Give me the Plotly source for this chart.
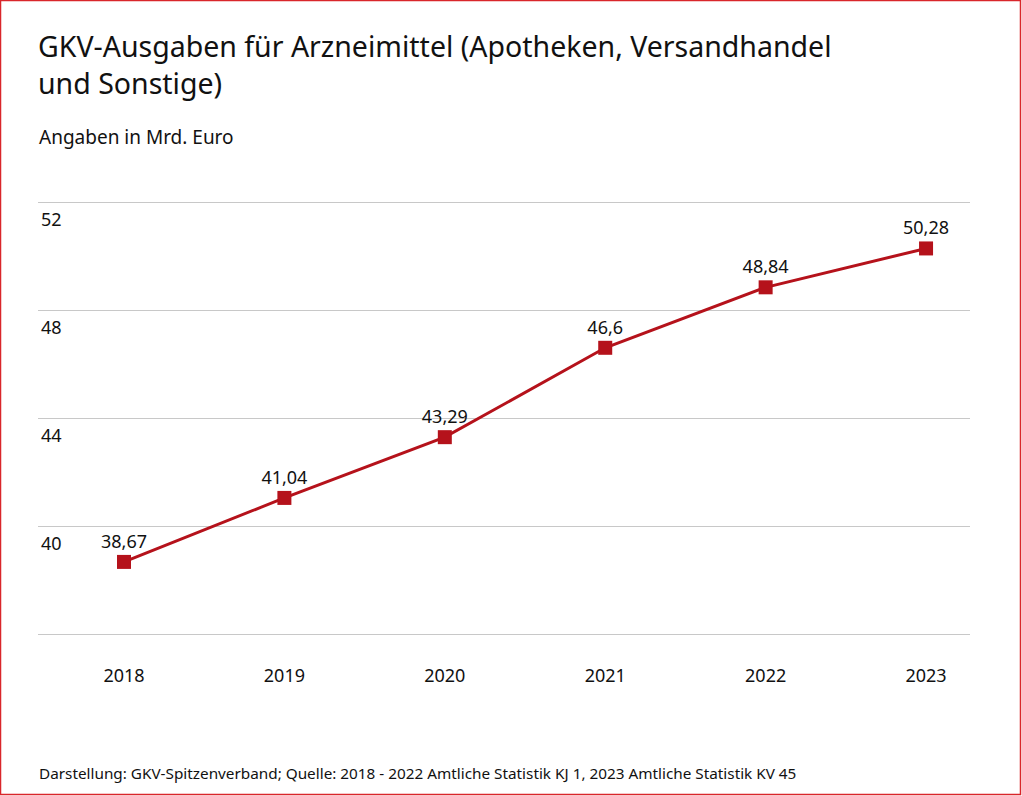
import plotly.graph_objects as go

years = [2018, 2019, 2020, 2021, 2022, 2023]
values = [38.67, 41.04, 43.29, 46.6, 48.84, 50.28]
y_ticks = [36, 40, 44, 48, 52]
y_tick_labels = ["", "40", "44", "48", "52"]

RED = "#b5121b"
FONT = "Noto Sans"

W, H = 1022, 796
L, R, T, B = 38, 52, 186, 160
pw, ph = W - L - R, H - T - B

def px_x(x):
    return (x - L) / pw

def px_y(y):
    return (H - B - y) / ph

labels = [f"{v}".replace(".", ",") for v in values]

fig = go.Figure()
fig.add_trace(go.Scatter(
    x=years, y=values, mode="lines+markers+text",
    line=dict(color=RED, width=3),
    marker=dict(symbol="square", size=14, color=RED),
    text=labels, textposition="top center",
    textfont=dict(family=FONT, size=18, color="#111"),
    cliponaxis=False, hoverinfo="skip",
))

# plot area 186..636 px; 27 px per unit -> 36 at 634, 52 at 202
fig.update_layout(
    width=W, height=H,
    margin=dict(l=L, r=R, t=T, b=B),
    paper_bgcolor="white", plot_bgcolor="white",
    showlegend=False,
    font=dict(family=FONT, color="#111"),
    xaxis=dict(
        range=[2017.464, 2023.274], tickvals=years, ticktext=[str(y) for y in years],
        showgrid=False, zeroline=False, showline=False, ticks="",
        tickfont=dict(size=18, color="#111"), ticklabelstandoff=27,
    ),
    yaxis=dict(
        range=[36 - 2 / 27, 52 + 16 / 27], tickvals=y_ticks, ticktext=y_tick_labels,
        showgrid=True, gridcolor="#c8c8c8", gridwidth=1,
        zeroline=False, showline=False, ticks="",
        ticklabelposition="inside bottom", ticklabelshift=5,
        tickfont=dict(size=18, color="#111"),
    ),
    shapes=[dict(
        type="rect", xref="paper", yref="paper",
        x0=px_x(0.5), x1=px_x(1020.5), y0=px_y(794.5), y1=px_y(0.5),
        line=dict(color="#d9262b", width=1.5), fillcolor="rgba(0,0,0,0)", layer="below",
    )],
    annotations=[
        dict(text="GKV-Ausgaben für Arzneimittel (Apotheken, Versandhandel<br>und Sonstige)",
             xref="paper", yref="paper", x=px_x(36), y=px_y(25), xanchor="left", yanchor="top",
             align="left", showarrow=False, font=dict(size=28.5, family=FONT, color="#111")),
        dict(text="Angaben in Mrd. Euro",
             xref="paper", yref="paper", x=px_x(37), y=px_y(137), xanchor="left", yanchor="middle",
             align="left", showarrow=False, font=dict(size=19, family=FONT, color="#111")),
        dict(text="Darstellung: GKV-Spitzenverband; Quelle: 2018 - 2022 Amtliche Statistik KJ 1, 2023 Amtliche Statistik KV 45",
             xref="paper", yref="paper", x=px_x(37), y=px_y(773), xanchor="left", yanchor="middle",
             align="left", showarrow=False, font=dict(size=15.3, family=FONT, color="#111")),
    ],
)

fig.write_html("out.html")
